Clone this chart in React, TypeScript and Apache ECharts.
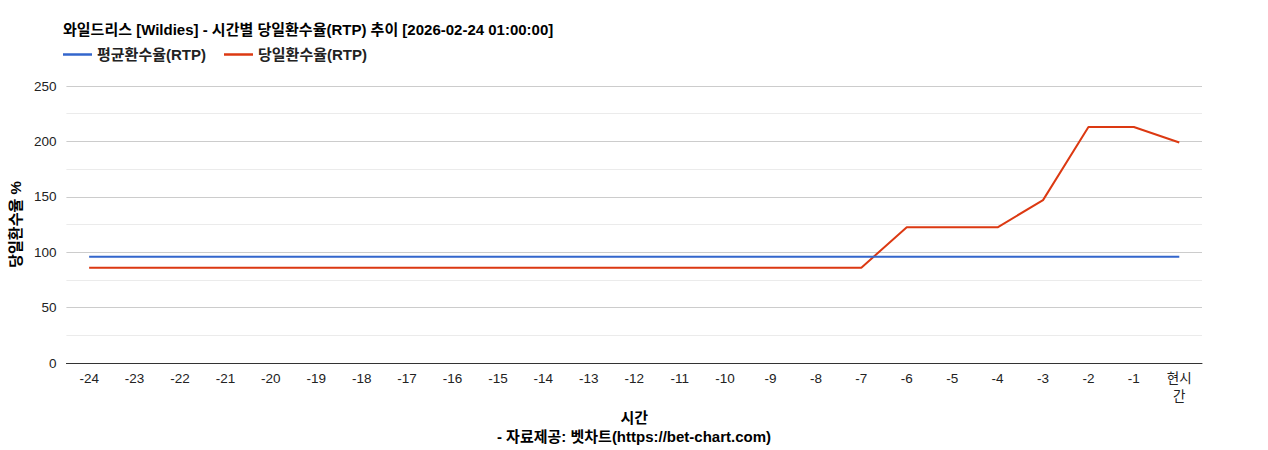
import * as echarts from 'echarts';
import React, { useEffect, useRef } from 'react';

// hours before now, last one is "now"
const hours = [
  '-24', '-23', '-22', '-21', '-20', '-19', '-18', '-17', '-16', '-15',
  '-14', '-13', '-12', '-11', '-10', '-9', '-8', '-7', '-6', '-5',
  '-4', '-3', '-2', '-1', '현시간',
];

const avgRtp = [
  96, 96, 96, 96, 96, 96, 96, 96, 96, 96,
  96, 96, 96, 96, 96, 96, 96, 96, 96, 96,
  96, 96, 96, 96, 96,
];

const dailyRtp = [
  86, 86, 86, 86, 86, 86, 86, 86, 86, 86,
  86, 86, 86, 86, 86, 86, 86, 86, 122.5, 122.5,
  122.5, 147, 213, 213, 199,
];

const FONT = '"Liberation Sans", Arial, "Noto Sans CJK KR", sans-serif';

const App: React.FC = () => {
  const chartRef = useRef<HTMLDivElement>(null);

  useEffect(() => {
    document.body.style.margin = '0';
    let chart: echarts.ECharts | undefined;
    if (chartRef.current) {
      chart = echarts.init(chartRef.current, undefined, { renderer: 'svg' });

      const option: echarts.EChartsOption = {
        animation: false,
        backgroundColor: '#ffffff',
        textStyle: { fontFamily: FONT },
        title: [
          {
            text: '와일드리스 [Wildies] - 시간별 당일환수율(RTP) 추이 [2026-02-24 01:00:00]',
            left: 58,
            top: 17,
            textStyle: { fontSize: 15, fontWeight: 'bold', color: '#000', fontFamily: FONT },
          },
          {
            text: '- 자료제공: 벳차트(https://bet-chart.com)',
            left: 'center',
            top: 424,
            textStyle: { fontSize: 15, fontWeight: 'bold', color: '#000', fontFamily: FONT },
          },
        ],
        legend: {
          left: 63,
          top: 47,
          padding: 0,
          icon: 'rect',
          itemWidth: 29,
          itemHeight: 2.5,
          itemGap: 18,
          textStyle: { fontSize: 15, fontWeight: 'bold', color: '#222', fontFamily: FONT },
          data: ['평균환수율(RTP)', '당일환수율(RTP)'],
        },
        grid: { left: 63, right: 66, top: 86, bottom: 87 },
        xAxis: {
          type: 'category',
          data: hours,
          boundaryGap: true,
          name: '시간',
          nameLocation: 'middle',
          nameGap: 43,
          nameTextStyle: { fontSize: 15, fontWeight: 'bold', color: '#000' },
          axisLine: { lineStyle: { color: '#333', width: 1 } },
          axisTick: { show: false },
          axisLabel: {
            color: '#222',
            fontSize: 13.5,
            margin: 6,
            interval: 0,
            lineHeight: 18,
            formatter: (v: string) => (v === '현시간' ? '현시\n간' : v),
          },
        },
        yAxis: {
          type: 'value',
          min: 0,
          max: 250,
          interval: 50,
          name: '당일환수율 %',
          nameLocation: 'middle',
          nameGap: 41,
          nameTextStyle: { fontSize: 15, fontWeight: 'bold', color: '#000' },
          axisLine: { show: false },
          axisTick: { show: false },
          axisLabel: { color: '#222', fontSize: 13.5, margin: 10 },
          splitLine: { lineStyle: { color: '#cccccc', width: 1 } },
          minorTick: { show: false, splitNumber: 2 },
          minorSplitLine: { show: true, lineStyle: { color: '#ebebeb', width: 1 } },
        },
        series: [
          {
            name: '평균환수율(RTP)',
            type: 'line',
            data: avgRtp,
            symbol: 'none',
            color: '#3366cc',
            lineStyle: { width: 2, color: '#3366cc' },
            z: 3,
          },
          {
            name: '당일환수율(RTP)',
            type: 'line',
            data: dailyRtp,
            symbol: 'none',
            color: '#dc3912',
            lineStyle: { width: 2, color: '#dc3912' },
            z: 2,
          },
        ],
      };

      chart.setOption(option);
    }
    return () => {
      chart?.dispose();
    };
  }, []);

  return <div ref={chartRef} style={{ width: '1268px', height: '450px' }} />;
};

export default App;
